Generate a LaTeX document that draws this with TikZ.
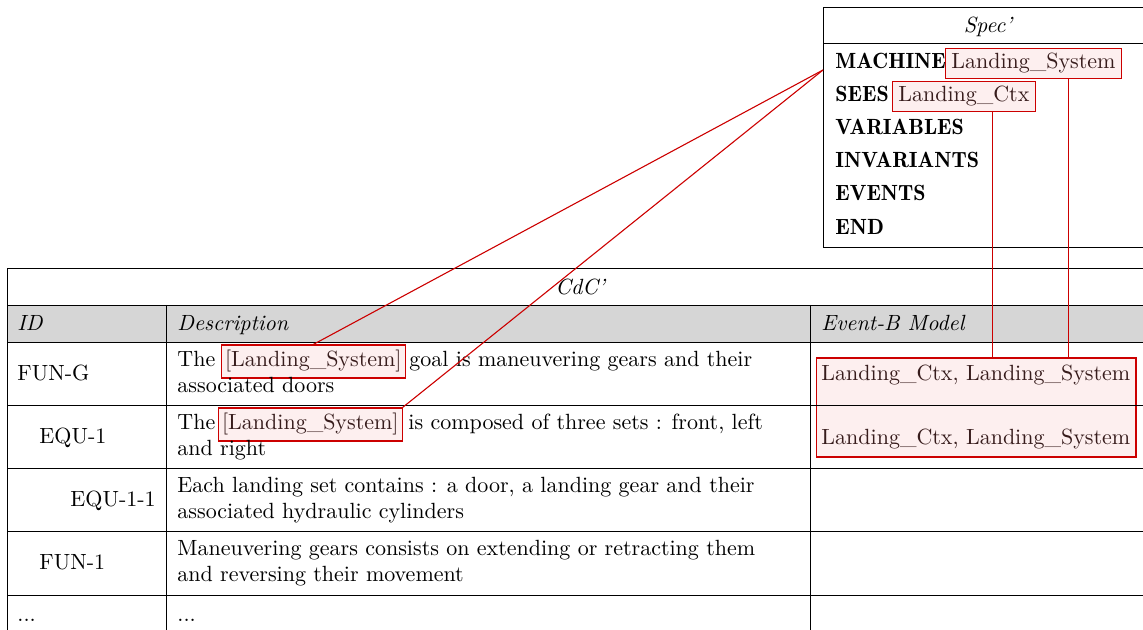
\documentclass[tikz,border=0pt]{standalone}
\usepackage{fontspec}
\newfontfamily\demifont{lmromandemi10-regular.otf}
\usetikzlibrary{calc}
\definecolor{lred}{RGB}{204,0,0}
\definecolor{lpink}{RGB}{253,239,239}
\definecolor{boxtext}{RGB}{55,28,28}
\definecolor{hdr}{RGB}{214,214,214}
\begin{document}
\begin{tikzpicture}[x=0.4545pt,y=-0.4545pt,
  txt/.style={anchor=base west, inner sep=0pt},
  kw/.style={txt, font=\demifont},
  rbox/.style={draw=lred, fill=lpink, line width=0.5pt, inner xsep=1.6pt, inner ysep=2.5pt,
    text height=7.5pt, text depth=2.5pt, anchor=base west, text=boxtext},
  sbox/.style={rbox, inner xsep=2.6pt, inner ysep=2.2pt, text height=7pt, text depth=2pt},
  ebbox/.style={draw=lred, fill=lpink, line width=0.5pt, inner sep=0pt,
    minimum width=145.4pt, minimum height=45pt},
  link/.style={draw=lred, line width=0.5pt},
  grid/.style={draw=black, line width=0.4pt}
]
\useasboundingbox (0,0) rectangle (1143,630);
\clip (0,0) rectangle (1143,630);

% ---------- Spec' box ----------
\draw[grid] (823,7) rectangle (1170,247);
\draw[grid] (823,43) -- (1170,43);
\node[txt, anchor=base, font=\itshape] (spect) at (988,33) {Spec'};
\node[kw] (mach) at (835,69) {MACHINE};
\node[kw] (sees) at (835,102) {SEES};
\node[kw] (vars) at (835,135) {VARIABLES};
\node[kw] (inv) at (835,168) {INVARIANTS};
\node[kw] (evts) at (835,201) {EVENTS};
\node[kw] (endk) at (835,235) {END};
\node[sbox] (lsys) at (945,69) {Landing\_System};
\node[sbox] (lctx) at (892,102) {Landing\_Ctx};
\coordinate (mw) at (823,70);

% ---------- CdC' table ----------
\fill[hdr] (7,305) rectangle (1170,342);
\node[ebbox] (eb) at (976,407.5) {};
\draw[grid] (7,700) -- (7,268) -- (1170,268);
\foreach \yy in {305,342,405,468,531,595}
  \draw[grid] (7,\yy) -- (1170,\yy);
\draw[grid] (166,305) -- (166,700);
\draw[grid] (810,305) -- (810,700);

\node[txt, anchor=base, font=\itshape] (cdc) at (580,295) {CdC'};
\node[txt, font=\itshape] (hid) at (17,331) {ID};
\node[txt, font=\itshape] (hdesc) at (177,331) {Description};
\node[txt, font=\itshape] (hmod) at (821,331) {Event-B Model};

% row FUN-G
\node[txt] (id1) at (17,381) {FUN-G};
\node[txt] (d1a) at (177,367) {The};
\node[rbox] (ls1) at (221,367) {[Landing\_System]};
\node[txt] (d1b) at (409,367) {goal is maneuvering gears and their};
\node[txt] (d1c) at (177,393) {associated doors};
\node[txt, text=boxtext] (m1) at (821,381) {Landing\_Ctx, Landing\_System};

% row EQU-1
\node[txt] (id2) at (39,444) {EQU-1};
\node[txt] (d2a) at (177,430) {The};
\node[rbox] (ls2) at (218,430) {[Landing\_System]};
\node[txt] (d2b) at (408,430) {is composed of three sets : front, left};
\node[txt] (d2c) at (177,456) {and right};
\node[txt, text=boxtext] (m2) at (821,445) {Landing\_Ctx, Landing\_System};

% row EQU-1-1
\node[txt] (id3) at (70,507) {EQU-1-1};
\node[txt] (d3a) at (177,493) {Each landing set contains : a door, a landing gear and their};
\node[txt] (d3b) at (177,519) {associated hydraulic cylinders};

% row FUN-1
\node[txt] (id4) at (39,570) {FUN-1};
\node[txt] (d4a) at (177,556) {Maneuvering gears consists on extending or retracting them};
\node[txt] (d4b) at (177,582) {and reversing their movement};

% row ...
\node[txt] (id5) at (17,621) {...};
\node[txt] (d5) at (177,621) {...};

% ---------- links ----------
\draw[link] (mw) -- (ls1.north);
\draw[link] (mw) -- (ls2.north east);
\draw[link] (lctx.south -| 992.7,0) -- (eb.north -| 992.7,0);
\draw[link] (lsys.south -| 1068.5,0) -- (eb.north -| 1068.5,0);
\end{tikzpicture}
\end{document}
